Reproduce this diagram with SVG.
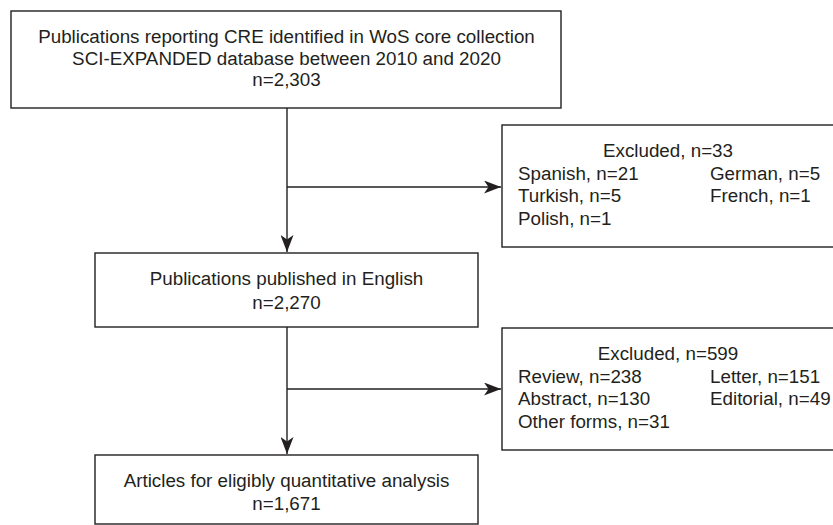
<svg xmlns="http://www.w3.org/2000/svg" width="833" height="525" viewBox="0 0 833 525">
<defs>
<style>
.box{fill:#fff;stroke:#231f20;stroke-width:1.4}
.t{font-family:"Liberation Sans",Arial,sans-serif;font-size:18.8px;fill:#231f20}
.c{text-anchor:middle}
.ln{fill:none;stroke:#231f20;stroke-width:1.4}
</style>
<marker id="ah" viewBox="0 0 17 13" refX="17" refY="6.5" markerWidth="17" markerHeight="13" markerUnits="userSpaceOnUse" orient="auto">
<path d="M0,0 L17,6.5 L0,13 L4.5,6.5 Z" fill="#231f20"/>
</marker>
</defs>
<rect width="833" height="525" fill="#fff"/>
<g id="connectors">
<path class="ln" d="M287,108 V252" marker-end="url(#ah)"/>
<path class="ln" d="M287,187 H501" marker-end="url(#ah)"/>
<path class="ln" d="M287,327 V454" marker-end="url(#ah)"/>
<path class="ln" d="M287,389 H501" marker-end="url(#ah)"/>
</g>
<g id="n1">
<rect class="box" x="11" y="11" width="550" height="97"/>
<text class="t c" x="286.5" y="42.5">Publications reporting CRE identified in WoS core collection</text>
<text class="t c" x="286.5" y="64.5">SCI-EXPANDED database between 2010 and 2020</text>
<text class="t c" x="286.5" y="86">n=2,303</text>
</g>
<g id="n2">
<rect class="box" x="502" y="125" width="340" height="122"/>
<text class="t c" x="668" y="157">Excluded, n=33</text>
<text class="t" x="518" y="179.5">Spanish, n=21</text>
<text class="t" x="710" y="179.5">German, n=5</text>
<text class="t" x="518" y="202">Turkish, n=5</text>
<text class="t" x="710" y="202">French, n=1</text>
<text class="t" x="518" y="224.5">Polish, n=1</text>
</g>
<g id="n3">
<rect class="box" x="95" y="253" width="383" height="74"/>
<text class="t c" x="286.5" y="285">Publications published in English</text>
<text class="t c" x="286.5" y="308.5">n=2,270</text>
</g>
<g id="n4">
<rect class="box" x="502" y="328" width="340" height="122"/>
<text class="t c" x="668" y="360">Excluded, n=599</text>
<text class="t" x="518" y="382.5">Review, n=238</text>
<text class="t" x="710" y="382.5">Letter, n=151</text>
<text class="t" x="518" y="405">Abstract, n=130</text>
<text class="t" x="710" y="405">Editorial, n=49</text>
<text class="t" x="518" y="427.5">Other forms, n=31</text>
</g>
<g id="n5">
<rect class="box" x="95" y="455" width="383" height="69"/>
<text class="t c" x="286.5" y="486.5">Articles for eligibly quantitative analysis</text>
<text class="t c" x="286.5" y="510">n=1,671</text>
</g>
</svg>
